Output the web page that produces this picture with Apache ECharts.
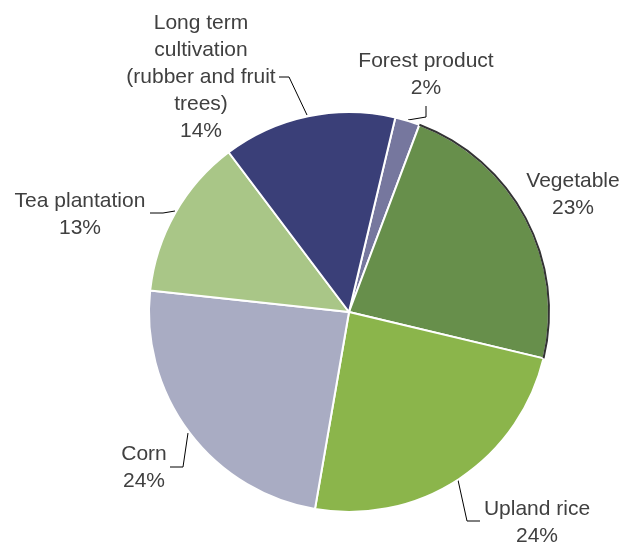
<!DOCTYPE html>
<html>
<head>
<meta charset="utf-8">
<script src="https://cdn.jsdelivr.net/npm/echarts@6/dist/echarts.min.js"></script>
<style>
  html, body { margin: 0; padding: 0; background: #fff; }
  #chart { width: 621px; height: 542px; }
</style>
</head>
<body>
<div id="chart"></div>
<script>
var categories = ['Forest product', 'Vegetable', 'Upland rice', 'Corn', 'Tea plantation', 'Long term\ncultivation\n(rubber and fruit\ntrees)']
var values = [2, 23, 24, 24, 13, 14]
var colors = ['#76779e', '#678f4b', '#8bb54b', '#a9acc3', '#a9c687', '#3a3f78']

// where each label sits and how its leader line runs (layout only)
var labelSpots = [
  { x: 426, y: 75, line: [[408, 120], [426, 117], [426, 106]] },
  { x: 573, y: 195, line: null },
  { x: 537, y: 523, line: [[458, 480], [467, 521], [480, 521]] },
  { x: 144, y: 468, line: [[188, 433], [183, 467], [170, 467]] },
  { x: 80, y: 215, line: [[175, 211], [163, 213], [150, 213]] },
  { x: 201, y: 77, line: [[307, 115], [289, 77], [279, 77]] }
]

var pieData = []
var rimData = []
for (let i = 0; i < categories.length; i++) {
  pieData.push({
    name: categories[i],
    value: values[i],
    itemStyle: { color: colors[i] },
    labelLine: { show: labelSpots[i].line !== null }
  })
  // outline only the selected slice (Vegetable)
  rimData.push({
    name: categories[i],
    value: values[i],
    itemStyle: { color: i === 1 ? '#333' : 'rgba(0,0,0,0)' }
  })
}

var chart = echarts.init(document.getElementById('chart'))
var option = {
  animation: false,
  series: [
    {
      type: 'pie',
      center: [349, 312],
      radius: 200,
      startAngle: 76.6,
      clockwise: true,
      data: pieData,
      itemStyle: {
        borderColor: '#fff',
        borderWidth: 2
      },
      label: {
        show: true,
        formatter: '{b}\n{d}%',
        color: '#404040',
        fontFamily: 'Liberation Sans, Arial',
        fontSize: 21,
        lineHeight: 27,
        align: 'center',
        verticalAlign: 'middle',
        overflow: 'none'
      },
      labelLine: {
        show: true,
        lineStyle: { color: '#000', width: 1 }
      },
      labelLayout: function (params) {
        var s = labelSpots[params.dataIndex]
        var out = { x: s.x, y: s.y, align: 'center', verticalAlign: 'middle' }
        if (s.line) out.labelLinePoints = s.line
        return out
      }
    },
    {
      type: 'pie',
      center: [349, 312],
      radius: [199, 201],
      startAngle: 76.6,
      clockwise: true,
      silent: true,
      data: rimData,
      label: { show: false },
      labelLine: { show: false }
    }
  ]
}
chart.setOption(option)
</script>
</body>
</html>
